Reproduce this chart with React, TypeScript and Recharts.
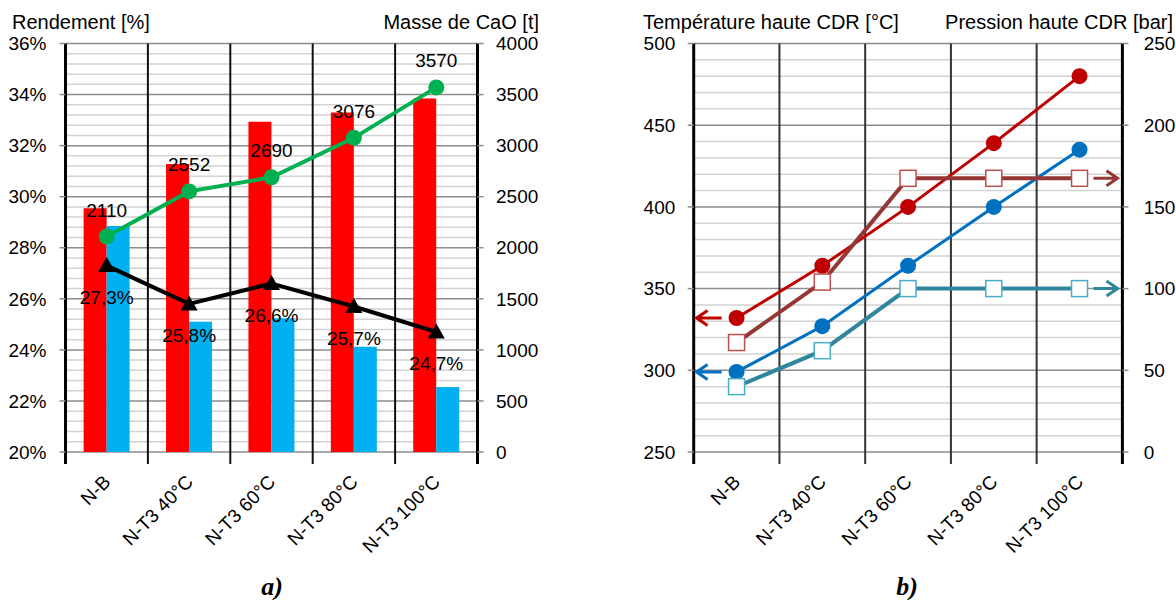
import React from 'react';
import {
  ComposedChart,
  Bar,
  Line,
  XAxis,
  YAxis,
  CartesianGrid,
  ReferenceLine,
  LabelList,
} from 'recharts';

// ---------- shared categories ----------
const categories = ['N-B', 'N-T3 40°C', 'N-T3 60°C', 'N-T3 80°C', 'N-T3 100°C'];

// ---------- chart a) ----------
const redBarsA = [29.55, 31.28, 32.94, 33.3, 33.85];
const blueBarsA = [28.85, 25.1, 25.24, 24.12, 22.55];
const rendementA = [27.3, 25.8, 26.6, 25.7, 24.7];
const masseCaOA = [2110, 2552, 2690, 3076, 3570];
const leftTicksA = [20, 22, 24, 26, 28, 30, 32, 34, 36];
const rightTicksA = [0, 500, 1000, 1500, 2000, 2500, 3000, 3500, 4000];

// ---------- chart b) ----------
const tempRedB = [332, 364, 400, 439, 480];
const tempBlueB = [299, 327, 364, 400, 435];
const pressBrownB = [67, 104, 167.5, 167.5, 167.5];
const pressTealB = [40, 62, 100, 100, 100];
const leftTicksB = [250, 300, 350, 400, 450, 500];
const rightTicksB = [0, 50, 100, 150, 200, 250];

const FONT = '"Liberation Sans", Arial, sans-serif';
const TICK_FS = 19;

// minor gridline values: 5 subdivisions between major ticks
const subdivide = (ticks: number[], n: number) => {
  const out: number[] = [];
  for (let i = 0; i < ticks.length - 1; i++) {
    const step = (ticks[i + 1] - ticks[i]) / n;
    for (let k = 1; k < n; k++) out.push(+(ticks[i] + k * step).toFixed(4));
  }
  return out;
};
const minorA = subdivide(leftTicksA, 5);
const minorB = subdivide(leftTicksB, 5);

const dataA = categories.map((c, i) => ({
  cat: c,
  red: redBarsA[i],
  blue: blueBarsA[i],
  rend: rendementA[i],
  masse: masseCaOA[i],
}));

const dataB = categories.map((c, i) => ({
  cat: c,
  tRed: tempRedB[i],
  tBlue: tempBlueB[i],
  pBrown: pressBrownB[i],
  pTeal: pressTealB[i],
}));

const XTick = (props: any) => {
  const { x, y, payload } = props;
  const ax = x + 5;
  const ay = y + 31;
  return (
    <text
      x={ax}
      y={ay}
      transform={`rotate(-45 ${ax} ${ay})`}
      textAnchor="end"
      fontSize={TICK_FS}
      fontFamily={FONT}
      fill="#000"
    >
      {payload.value}
    </text>
  );
};

const sepShape = (w: number, color: string) => (p: any) => {
  const top = Math.min(p.y1, p.y2);
  const bot = Math.max(p.y1, p.y2);
  return <line x1={p.x1} x2={p.x2} y1={top} y2={bot + 12} stroke={color} strokeWidth={w} />;
};

const separators = (yAxisId: string, inner: string) => {
  const els: React.ReactNode[] = [];
  categories.forEach((c, i) => {
    els.push(
      <ReferenceLine
        key={'s' + i}
        x={c}
        yAxisId={yAxisId}
        position="start"
        shape={i === 0 ? sepShape(3, '#000') : sepShape(2, inner)}
      />
    );
  });
  els.push(
    <ReferenceLine
      key="send"
      x={categories[categories.length - 1]}
      yAxisId={yAxisId}
      position="end"
      shape={sepShape(3, '#000')}
    />
  );
  return els;
};

const yTickStyle = { fontSize: TICK_FS, fill: '#000', fontFamily: FONT };
const tickLineStyle = { stroke: '#8c8c8c', strokeWidth: 1.5 };

const TriangleDot = (p: any) => {
  const { cx, cy, index } = p;
  if (cx == null || cy == null) return <g key={'t' + index} />;
  return (
    <path
      key={'t' + index}
      d={`M${cx},${cy - 8.5} L${cx + 8.5},${cy + 6.5} L${cx - 8.5},${cy + 6.5} Z`}
      fill="#000"
    />
  );
};

const fmtPct = (v: any) => `${Number(v).toFixed(1).replace('.', ',')}%`;

function ChartA() {
  return (
    <ComposedChart
      width={560}
      height={600}
      data={dataA}
      margin={{ top: 43.5, right: 0, bottom: 48, left: 0 }}
      barCategoryGap="22%"
      barGap={0}
    >
      <CartesianGrid yAxisId="l" horizontalValues={minorA} vertical={false} stroke="#d2d2d2" strokeWidth={1.5} />
      <CartesianGrid yAxisId="l" horizontalValues={leftTicksA} vertical={false} stroke="#8c8c8c" strokeWidth={1.5} />
      <XAxis
        dataKey="cat"
        height={100}
        axisLine={false}
        tickLine={false}
        tickSize={0}
        tickMargin={0}
        interval={0}
        tick={<XTick />}
      />
      <YAxis
        yAxisId="l"
        width={65.5}
        domain={[20, 36]}
        ticks={leftTicksA}
        interval={0}
        axisLine={false}
        tickLine={tickLineStyle}
        tickSize={6}
        tickMargin={13}
        tick={yTickStyle}
        tickFormatter={(v: number) => `${v}%`}
      />
      <YAxis
        yAxisId="r"
        orientation="right"
        width={82.5}
        domain={[0, 4000]}
        ticks={rightTicksA}
        interval={0}
        axisLine={false}
        tickLine={tickLineStyle}
        tickSize={6}
        tickMargin={12.5}
        tick={yTickStyle}
      />
      {separators('l', '#111')}
      <Bar yAxisId="l" dataKey="red" fill="#FF0000" isAnimationActive={false} />
      <Bar yAxisId="l" dataKey="blue" fill="#00B0F0" isAnimationActive={false} />
      <Line
        yAxisId="l"
        dataKey="rend"
        stroke="#000"
        strokeWidth={4}
        dot={TriangleDot}
        activeDot={false}
        isAnimationActive={false}
      >
        <LabelList
          dataKey="rend"
          position="bottom"
          offset={25}
          formatter={fmtPct}
          fontSize={TICK_FS}
          fontFamily={FONT}
          fill="#000"
        />
      </Line>
      <Line
        yAxisId="r"
        dataKey="masse"
        stroke="#00B050"
        strokeWidth={4}
        dot={{ r: 8, fill: '#00B050', stroke: '#00B050', strokeWidth: 0 }}
        activeDot={false}
        isAnimationActive={false}
      >
        <LabelList dataKey="masse" position="top" offset={20} fontSize={TICK_FS} fontFamily={FONT} fill="#000" />
      </Line>
    </ComposedChart>
  );
}

const arrowLeft = (cx: number, cy: number, color: string) => (
  <path
    d={`M${cx - 15},${cy} L${cx - 40},${cy} M${cx - 29},${cy - 7.5} L${cx - 40},${cy} L${cx - 29},${cy + 7.5}`}
    stroke={color}
    strokeWidth={3}
    fill="none"
  />
);
const arrowRight = (cx: number, cy: number, color: string) => (
  <path
    d={`M${cx + 14},${cy} L${cx + 38},${cy} M${cx + 27},${cy - 7.5} L${cx + 38},${cy} L${cx + 27},${cy + 7.5}`}
    stroke={color}
    strokeWidth={3}
    fill="none"
  />
);

const circleDot = (color: string) => (p: any) => {
  const { cx, cy, index } = p;
  if (cx == null || cy == null) return <g key={'c' + index} />;
  return (
    <g key={'c' + index}>
      {index === 0 ? arrowLeft(cx, cy, color) : null}
      <circle cx={cx} cy={cy} r={8} fill={color} />
    </g>
  );
};

const squareDot = (lineColor: string, edgeColor: string, last: number) => (p: any) => {
  const { cx, cy, index } = p;
  if (cx == null || cy == null) return <g key={'q' + index} />;
  return (
    <g key={'q' + index}>
      {index === last ? arrowRight(cx, cy, lineColor) : null}
      <rect x={cx - 8} y={cy - 8} width={16} height={16} fill="#fff" stroke={edgeColor} strokeWidth={1.5} />
    </g>
  );
};

function ChartB() {
  const last = categories.length - 1;
  return (
    <ComposedChart
      width={576}
      height={600}
      data={dataB}
      margin={{ top: 43.5, right: 0, bottom: 48, left: 0 }}
    >
      <CartesianGrid yAxisId="l" horizontalValues={minorB} vertical={false} stroke="#d2d2d2" strokeWidth={1.5} />
      <CartesianGrid yAxisId="l" horizontalValues={leftTicksB} vertical={false} stroke="#8c8c8c" strokeWidth={1.5} />
      <XAxis
        dataKey="cat"
        scale="band"
        height={100}
        axisLine={false}
        tickLine={false}
        tickSize={0}
        tickMargin={0}
        interval={0}
        tick={<XTick />}
      />
      <YAxis
        yAxisId="l"
        width={93.7}
        domain={[250, 500]}
        ticks={leftTicksB}
        interval={0}
        axisLine={false}
        tickLine={tickLineStyle}
        tickSize={6}
        tickMargin={12.4}
        tick={yTickStyle}
      />
      <YAxis
        yAxisId="r"
        orientation="right"
        width={53.6}
        domain={[0, 250]}
        ticks={rightTicksB}
        interval={0}
        axisLine={false}
        tickLine={tickLineStyle}
        tickSize={6}
        tickMargin={15.3}
        tick={yTickStyle}
      />
      {separators('l', '#333')}
      <Line
        yAxisId="l"
        dataKey="tRed"
        stroke="#C00000"
        strokeWidth={3}
        dot={circleDot('#C00000')}
        activeDot={false}
        isAnimationActive={false}
      />
      <Line
        yAxisId="l"
        dataKey="tBlue"
        stroke="#0070C0"
        strokeWidth={3}
        dot={circleDot('#0070C0')}
        activeDot={false}
        isAnimationActive={false}
      />
      <Line
        yAxisId="r"
        dataKey="pBrown"
        stroke="#953735"
        strokeWidth={4}
        dot={squareDot('#953735', '#B9504D', last)}
        activeDot={false}
        isAnimationActive={false}
      />
      <Line
        yAxisId="r"
        dataKey="pTeal"
        stroke="#31859C"
        strokeWidth={4}
        dot={squareDot('#31859C', '#4BACC6', last)}
        activeDot={false}
        isAnimationActive={false}
      />
    </ComposedChart>
  );
}

export default function App() {
  return (
    <div
      style={{
        position: 'absolute',
        left: 0,
        top: 0,
        width: 1176,
        height: 600,
        background: '#fff',
        overflow: 'hidden',
      }}
    >
      <div style={{ position: 'absolute', left: 0, top: 0 }}>
        <ChartA />
      </div>
      <div style={{ position: 'absolute', left: 600, top: 0 }}>
        <ChartB />
      </div>
      <svg
        width={1176}
        height={600}
        style={{ position: 'absolute', left: 0, top: 0, pointerEvents: 'none' }}
      >
        <g fontFamily={FONT} fontSize={20} fill="#000" style={{ whiteSpace: 'pre' }}>
          <text x={12} y={28.5}>{'Rendement  [%]'}</text>
          <text x={539} y={28.5} textAnchor="end">Masse de CaO [t]</text>
          <text x={643} y={28.5}>{'Température  haute CDR [°C]'}</text>
          <text x={1173} y={28.5} textAnchor="end">Pression haute CDR [bar]</text>
        </g>
        <g fontFamily='"Liberation Serif", "Times New Roman", serif' fontSize={26} fontWeight="bold" fontStyle="italic" fill="#000">
          <text x={272} y={595} textAnchor="middle">a)</text>
          <text x={907} y={595} textAnchor="middle">b)</text>
        </g>
      </svg>
    </div>
  );
}
